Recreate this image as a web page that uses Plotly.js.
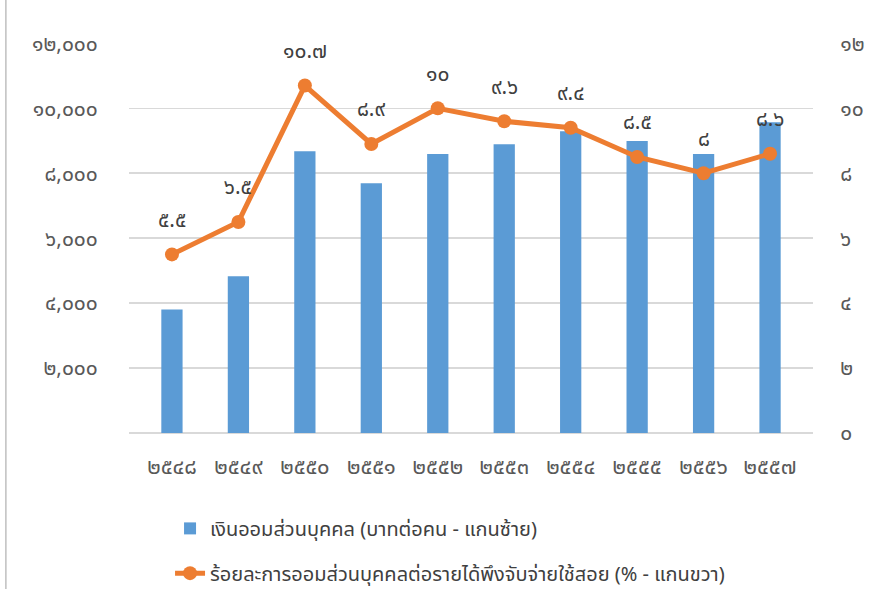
<!DOCTYPE html>
<html>
<head>
<meta charset="utf-8">
<script src="https://cdn.plot.ly/plotly-3.0.1.min.js"></script>
<style>html,body{margin:0;padding:0;background:#fff;}#chart{width:875px;height:589px;}</style>
</head>
<body>
<div id="chart"></div>
<script>
const years = ['๒๕๔๘','๒๕๔๙','๒๕๕๐','๒๕๕๑','๒๕๕๒','๒๕๕๓','๒๕๕๔','๒๕๕๕','๒๕๕๖','๒๕๕๗'];
const savings = [3800, 4830, 8680, 7690, 8590, 8890, 9290, 8990, 8590, 9570];
const savingRate = [5.5, 6.5, 10.7, 8.9, 10, 9.6, 9.4, 8.5, 8, 8.6];
const savingRateLabels = ['๕.๕','๖.๕','๑๐.๗','๘.๙','๑๐','๙.๖','๙.๔','๘.๕','๘','๘.๖'];
const leftTickVals = [0, 2000, 4000, 6000, 8000, 10000, 12000];
const leftTickText = ['', '๒,๐๐๐', '๔,๐๐๐', '๖,๐๐๐', '๘,๐๐๐', '๑๐,๐๐๐', '๑๒,๐๐๐'];
const rightTickVals = [0, 2, 4, 6, 8, 10, 12];
const rightTickText = ['๐', '๒', '๔', '๖', '๘', '๑๐', '๑๒'];
const barName = 'เงินออมส่วนบุคคล (บาทต่อคน - แกนซ้าย)';
const lineName = 'ร้อยละการออมส่วนบุคคลต่อรายได้พึงจับจ่ายใช้สอย (% - แกนขวา)';

const FONT = '"Noto Sans Thai", "Noto Sans", sans-serif';

const traces = [
  {
    type: 'bar', x: years, y: savings, name: barName,
    marker: {color: '#5B9BD5'}, legend: 'legend', hoverinfo: 'x+y'
  },
  {
    type: 'scatter', mode: 'lines+markers', x: years, y: savingRate, yaxis: 'y2',
    name: lineName, legend: 'legend2',
    line: {color: '#ED7D31', width: 5},
    marker: {color: '#ED7D31', size: 14}
  }
];

const annotations = years.map((yr, i) => ({
  x: yr, y: savingRate[i], xref: 'x', yref: 'y2',
  text: savingRateLabels[i], showarrow: false, yshift: 34,
  font: {family: FONT, size: 21, color: '#404040'}
}));

const legendFont = {family: FONT, size: 20, color: '#404040'};

const layout = {
  width: 875, height: 589,
  margin: {l: 129, r: 62, t: 43, b: 156},
  paper_bgcolor: '#ffffff', plot_bgcolor: '#ffffff',
  font: {family: FONT, color: '#595959'},
  bargap: 0.68,
  showlegend: true,
  legend: {
    x: 0.06, xref: 'paper', y: 0.136, yref: 'container', xanchor: 'left', yanchor: 'top',
    orientation: 'v', tracegroupgap: 0, font: legendFont
  },
  legend2: {
    x: 0.06, xref: 'paper', y: 0.060, yref: 'container', xanchor: 'left', yanchor: 'top',
    orientation: 'v', tracegroupgap: 0, font: legendFont
  },
  xaxis: {
    type: 'category', showgrid: false, zeroline: false,
    showline: false, ticks: 'outside', ticklen: 14, tickcolor: 'rgba(0,0,0,0)',
    tickfont: {family: FONT, size: 22, color: '#595959'}
  },
  yaxis: {
    range: [0, 12010], tickvals: leftTickVals, ticktext: leftTickText,
    showgrid: true, gridcolor: '#d9d9d9', gridwidth: 1.5,
    zeroline: true, zerolinecolor: '#d9d9d9', zerolinewidth: 1.5,
    ticks: 'outside', ticklen: 26, tickcolor: 'rgba(0,0,0,0)',
    tickfont: {family: FONT, size: 21, color: '#595959'}
  },
  yaxis2: {
    range: [0, 12.01], tickvals: rightTickVals, ticktext: rightTickText,
    overlaying: 'y', side: 'right', showgrid: false, zeroline: false,
    ticks: 'outside', ticklen: 22, tickcolor: 'rgba(0,0,0,0)',
    tickfont: {family: FONT, size: 21, color: '#595959'}
  },
  annotations: annotations,
  shapes: [
    {type: 'line', xref: 'paper', yref: 'paper', x0: -0.180, x1: -0.180, y0: -0.45, y1: 1.15,
     line: {color: '#bfbfbf', width: 1.5}}
  ]
};

Plotly.newPlot('chart', traces, layout, {displayModeBar: false, staticPlot: true});
</script>
</body>
</html>
